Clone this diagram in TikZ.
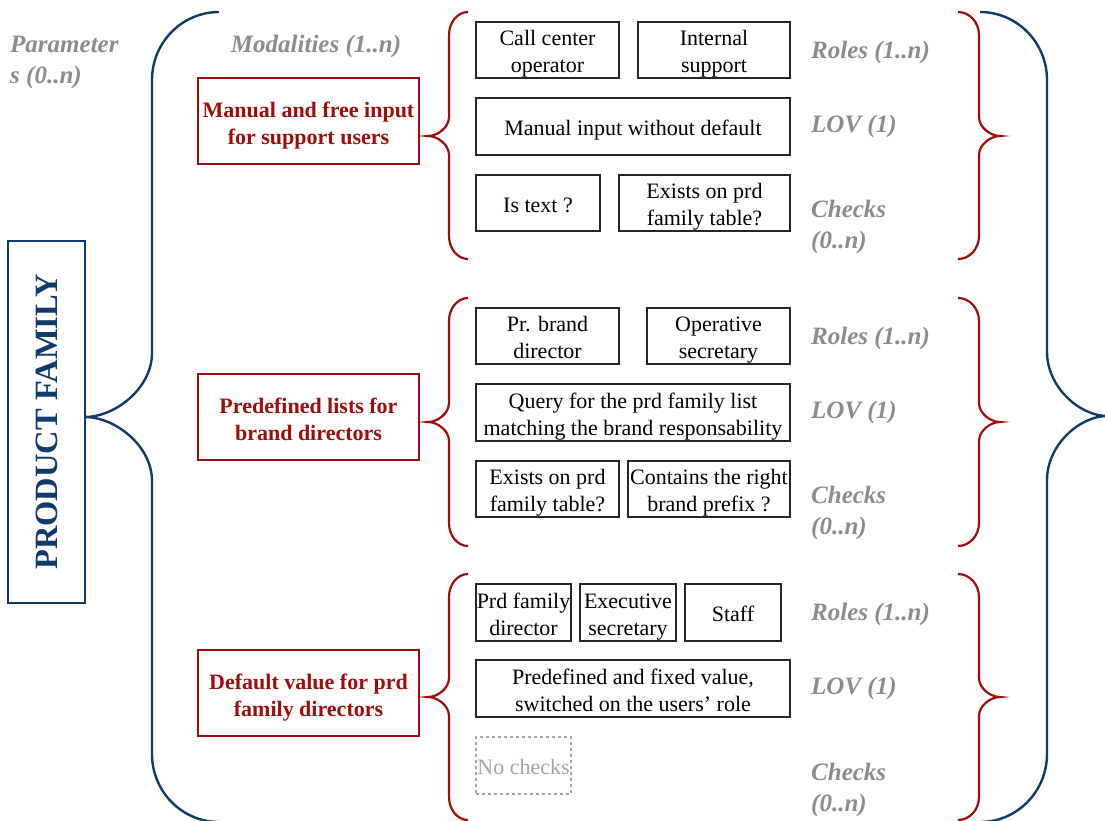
\documentclass[tikz,border=0pt]{standalone}
\usepackage{fontspec}
\setmainfont{Liberation Serif}

\definecolor{navy}{RGB}{16,58,110}
\definecolor{darkred}{RGB}{160,12,12}
\definecolor{labelgray}{RGB}{140,140,140}
\definecolor{faintgray}{RGB}{165,165,165}

% curly brace: style, arm x, spine x, tip x, top y, tip y, bottom y,
% height of the arm bends, height of the tip bends
\newcommand\curlybrace[9]{%
  \draw[#1] (#2,#5)
    .. controls ({#2+0.552*(#3-#2)},#5) and (#3,{#5+0.448*#8}) .. (#3,{#5+#8})
    -- (#3,{#6-#9})
    .. controls (#3,{#6-0.448*#9}) and ({#4+0.448*(#3-#4)},#6) .. (#4,#6)
    .. controls ({#4+0.448*(#3-#4)},#6) and (#3,{#6+0.448*#9}) .. (#3,{#6+#9})
    -- (#3,{#7-#8})
    .. controls (#3,{#7-0.448*#8}) and ({#2+0.552*(#3-#2)},#7) .. (#2,#7);}

\tikzset{
  itembox/.style={draw=black!85, line width=1.1pt, inner sep=0pt},
  itemtext/.style={inner sep=0pt, align=center, yshift=-4,
    font=\fontsize{22}{27}\selectfont},
  nocheckbox/.style={itembox, draw=faintgray, dashed},
  modbox/.style={draw=darkred, line width=2pt, inner sep=0pt,
    minimum width=221, minimum height=86},
  modtext/.style={itemtext, yshift=-0.5, text=darkred,
    font=\fontsize{22}{27}\selectfont\bfseries},
  sidelabel/.style={text=labelgray, font=\fontsize{25}{31}\selectfont\bfseries\itshape,
    align=left, anchor=west, inner sep=0pt},
  redbrace/.style={draw=darkred, line width=2.2pt},
  navybrace/.style={draw=navy, line width=2.4pt},
}

\begin{document}
\begin{tikzpicture}[x=1pt,y=-1pt]
\useasboundingbox (0,0) rectangle (1105,820);

% product family box
\node[draw=navy, line width=2.4pt, rotate=90, minimum width=362, minimum height=77,
  inner sep=0pt, text=navy, font=\fontsize{32.5}{38}\selectfont\bfseries]
  (pf) at (46.5,422) {PRODUCT FAMILY};

% headers
\node[sidelabel] (params) at (10,62) {Parameter\\s (0..n)};
\node[sidelabel, anchor=center] (mods) at (316,46) {Modalities (1..n)};

% outer braces
\curlybrace{navybrace}{219}{152}{85}{12}{417}{822}{68}{64}
\curlybrace{navybrace}{980}{1047}{1107}{12}{416}{822}{68}{64}

% modalities
\node[modbox, label={[modtext]center:{\strut Manual and free input\\\strut for support users}}] (m1) at (308.5,121) {};
\node[modbox, label={[modtext]center:{\strut Predefined lists for\\\strut brand directors}}] (m2) at (308.5,417) {};
\node[modbox, label={[modtext]center:{\strut Default value for prd\\\strut family directors}}] (m3) at (308.5,693) {};

% group braces
\curlybrace{redbrace}{468}{449}{428}{12}{136}{259}{23}{19}
\curlybrace{redbrace}{958}{979}{1000}{12}{136}{259}{23}{19}
\curlybrace{redbrace}{468}{449}{428}{298}{422}{546}{23}{19}
\curlybrace{redbrace}{958}{979}{1000}{298}{422}{546}{23}{19}
\curlybrace{redbrace}{468}{449}{428}{574}{697}{820}{23}{19}
\curlybrace{redbrace}{958}{979}{1000}{574}{697}{820}{23}{19}

% group 1
\node[itembox, minimum width=143, minimum height=56, label={[itemtext]center:{\strut Call center\\\strut operator}}] (r11) at (547.5,50) {};
\node[itembox, minimum width=152, minimum height=56, label={[itemtext]center:{\strut Internal\\\strut support}}] (r12) at (714,50) {};
\node[itembox, minimum width=314, minimum height=57, label={[itemtext]center:{\strut Manual input without default}}] (l1) at (633,126.5) {};
\node[itembox, minimum width=124, minimum height=56, label={[itemtext]center:{\strut Is text ?}}] (c11) at (538,203) {};
\node[itembox, minimum width=171, minimum height=56, label={[itemtext]center:{\strut Exists on prd\\\strut family table?}}] (c12) at (704.5,203) {};

% group 2
\node[itembox, minimum width=143, minimum height=56, label={[itemtext]center:{\strut Pr. brand\\\strut director}}] (r21) at (547.5,336) {};
\node[itembox, minimum width=143, minimum height=56, label={[itemtext]center:{\strut Operative\\\strut secretary}}] (r22) at (718.5,336) {};
\node[itembox, minimum width=314, minimum height=57, label={[itemtext]center:{\strut Query for the prd family list\\\strut matching the brand responsability}}] (l2) at (633,412.5) {};
\node[itembox, minimum width=143, minimum height=56, label={[itemtext]center:{\strut Exists on prd\\\strut family table?}}] (c21) at (547.5,489) {};
\node[itembox, minimum width=162, minimum height=56, label={[itemtext]center:{\strut Contains the right\\\strut brand prefix ?}}] (c22) at (709,489) {};

% group 3
\node[itembox, minimum width=95, minimum height=57, label={[itemtext]center:{\strut Prd family\\\strut director}}] (r31) at (523.5,612.5) {};
\node[itembox, minimum width=96, minimum height=57, label={[itemtext]center:{\strut Executive\\\strut secretary}}] (r32) at (628,612.5) {};
\node[itembox, minimum width=96, minimum height=57, label={[itemtext]center:{\strut Staff}}] (r33) at (733,612.5) {};
\node[itembox, minimum width=314, minimum height=57, label={[itemtext]center:{\strut Predefined and fixed value,\\\strut switched on the users’ role}}] (l3) at (633,688.5) {};
\node[nocheckbox, minimum width=95, minimum height=57, label={[itemtext, text=faintgray]center:{\strut No checks}}] (c31) at (523.5,765.5) {};

% row labels
\node[sidelabel] (roles1) at (811,52) {Roles (1..n)};
\node[sidelabel] (lov1) at (811,126) {LOV (1)};
\node[sidelabel] (chk1) at (811,227) {Checks\\(0..n)};
\node[sidelabel] (roles2) at (811,338) {Roles (1..n)};
\node[sidelabel] (lov2) at (811,412) {LOV (1)};
\node[sidelabel] (chk2) at (811,513) {Checks\\(0..n)};
\node[sidelabel] (roles3) at (811,614) {Roles (1..n)};
\node[sidelabel] (lov3) at (811,688) {LOV (1)};
\node[sidelabel] (chk3) at (811,790) {Checks\\(0..n)};
\end{tikzpicture}
\end{document}
